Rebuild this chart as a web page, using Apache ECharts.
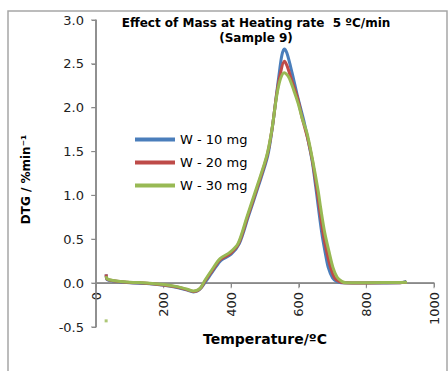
<!DOCTYPE html>
<html><head><meta charset="utf-8">
<script src="https://cdn.jsdelivr.net/npm/echarts@6/dist/echarts.min.js"></script>
<style>html,body{margin:0;padding:0;background:#fff}#c{width:448px;height:371px}</style>
</head><body><div id="c"></div>
<script>
var seriesNames = ['W - 10 mg', 'W - 20 mg', 'W - 30 mg'];
var colors = ['#4a7ebb', '#be4b48', '#98b954'];
var xTicks = [0, 200, 400, 600, 800, 1000];
var yTicks = [-0.5, 0, 0.5, 1, 1.5, 2, 2.5, 3];
var w10 = [[30,0.10],[33,0.04],[50,0.025],[100,0.005],[150,-0.005],[200,-0.025],[240,-0.05],[270,-0.08],[288,-0.10],[300,-0.09],[312,-0.05],[325,0.02],[350,0.16],[370,0.26],[400,0.33],[424,0.45],[450,0.75],[480,1.10],[508,1.45],[522,1.78],[533,2.12],[543,2.42],[550,2.60],[557,2.67],[565,2.62],[580,2.40],[595,2.15],[605,2.0],[615,1.85],[630,1.58],[640,1.38],[650,1.10],[668,0.57],[678,0.35],[687,0.18],[700,0.06],[712,0.02],[725,0.005],[800,0.003],[900,0.005],[918,0.02]];
var w20 = [[30,0.10],[33,0.045],[50,0.028],[100,0.008],[150,0],[200,-0.02],[240,-0.045],[270,-0.075],[288,-0.095],[300,-0.085],[311,-0.05],[323,0.025],[348,0.165],[368,0.27],[398,0.34],[422,0.45],[448,0.75],[478,1.10],[506,1.45],[521,1.76],[534,2.14],[545,2.38],[557,2.53],[565,2.48],[580,2.30],[597,2.10],[610,1.88],[627,1.64],[640,1.40],[653,1.08],[672,0.57],[683,0.35],[694,0.18],[706,0.06],[719,0.02],[732,0.005],[800,0.003],[900,0.005],[918,0.01]];
var w30 = [[30,0.08],[33,0.05],[50,0.03],[100,0.01],[150,0.003],[200,-0.015],[240,-0.04],[270,-0.07],[288,-0.09],[300,-0.08],[310,-0.05],[322,0.03],[346,0.17],[367,0.28],[396,0.35],[420,0.45],[446,0.75],[476,1.10],[505,1.45],[520,1.74],[534,2.12],[545,2.32],[557,2.40],[570,2.35],[585,2.20],[598,2.05],[610,1.88],[625,1.70],[640,1.42],[657,1.06],[665,0.85],[677,0.57],[690,0.35],[701,0.18],[713,0.07],[727,0.02],[740,0.005],[800,0.005],[900,0.008],[920,0.01]];
var w30Stray = [[30,-0.43]];

var chart = echarts.init(document.getElementById('c'), null, {renderer:'svg'});
var font = 'DejaVu Sans, Verdana, sans-serif';
var axisGray = '#898989';
var xMin = xTicks[0], xMax = xTicks[xTicks.length-1];
var yMin = yTicks[0], yMax = yTicks[yTicks.length-1];
function lineSeries(name, data, color){
  return {name:name, type:'line', data:data, smooth:0.3, showSymbol:false,
    lineStyle:{width:3, color:color}, itemStyle:{color:color}, z:2};
}
function axisRule(name, data){
  return {name:name, type:'line', data:data, showSymbol:false, silent:true, z:1,
    lineStyle:{width:1.5, color:axisGray}, itemStyle:{color:axisGray}};
}
function tickMarks(name, data, size, offset){
  return {name:name, type:'scatter', data:data, symbol:'rect', symbolSize:size, symbolOffset:offset,
    silent:true, z:1, itemStyle:{color:axisGray}};
}
chart.setOption({
  animation:false,
  backgroundColor:'#ffffff',
  graphic:[{type:'rect', shape:{x:8, y:11, width:439, height:380}, style:{fill:'none', stroke:'#a6a6a6', lineWidth:1.5}, z:-1}],
  title:{text:'Effect of Mass at Heating rate  5 ºC/min\n(Sample 9)', left:251, textAlign:'center', top:10,
    textStyle:{fontFamily:font, fontSize:12, fontWeight:'bold', color:'#000', lineHeight:15}},
  legend:{data:seriesNames, orient:'vertical', left:130, top:128, itemWidth:40, itemHeight:4, icon:'rect', itemGap:10,
    textStyle:{fontFamily:font, fontSize:13, color:'#000'}},
  grid:{left:96, right:14, top:20, bottom:44, containLabel:false, outerBoundsMode:'none'},
  xAxis:[{type:'value', min:xMin, max:xMax, interval:200,
    name:'Temperature/ºC', nameLocation:'middle', nameGap:5, nameMoveOverlap:false,
    nameTextStyle:{fontFamily:font, fontSize:14, fontWeight:'bold', color:'#000'},
    axisLine:{onZero:true, lineStyle:{color:axisGray, width:1.5}},
    axisTick:{show:true, length:4, lineStyle:{color:axisGray, width:1}},
    axisLabel:{show:false},
    splitLine:{show:false}},
   {type:'value', position:'bottom', offset:-44, min:xMin, max:xMax, interval:200,
    axisLine:{show:false, onZero:false}, axisTick:{show:false}, splitLine:{show:false},
    axisLabel:{show:true, rotate:90, margin:9, fontFamily:font, fontSize:13, color:'#222',
      formatter:function(v){return String(v);}}}],
  yAxis:{type:'value', min:yMin, max:yMax, interval:0.5,
    name:'DTG / %min⁻¹', nameLocation:'middle', nameGap:64, nameRotate:90,
    nameTextStyle:{fontFamily:font, fontSize:12, fontWeight:'bold', color:'#000', padding:[0,12,0,0]},
    axisLine:{show:true, lineStyle:{color:axisGray, width:1.5}},
    axisTick:{show:true, length:4, lineStyle:{color:axisGray, width:1}},
    axisLabel:{margin:12, fontFamily:font, fontSize:13, color:'#222', formatter:function(v){return v.toFixed(1);}},
    splitLine:{show:false}},
  series:[
    axisRule('yAxisRule', [[0, yMin], [0, yMax]]),
    axisRule('xAxisRule', [[xMin, 0], [xMax, 0]]),
    tickMarks('xTickMarks', xTicks.map(function(v){return [v, 0];}), [1.2, 5], [0, 2.5]),
    tickMarks('yTickMarks', yTicks.map(function(v){return [0, v];}), [5, 1.2], [-2.5, 0]),
    lineSeries(seriesNames[0], w10, colors[0]),
    lineSeries(seriesNames[1], w20, colors[1]),
    lineSeries(seriesNames[2], w30, colors[2]),
    {name:'stray', type:'scatter', data:w30Stray, symbolSize:3, symbol:'rect', itemStyle:{color:colors[2]}, silent:true, z:3}
  ]
});
</script></body></html>
